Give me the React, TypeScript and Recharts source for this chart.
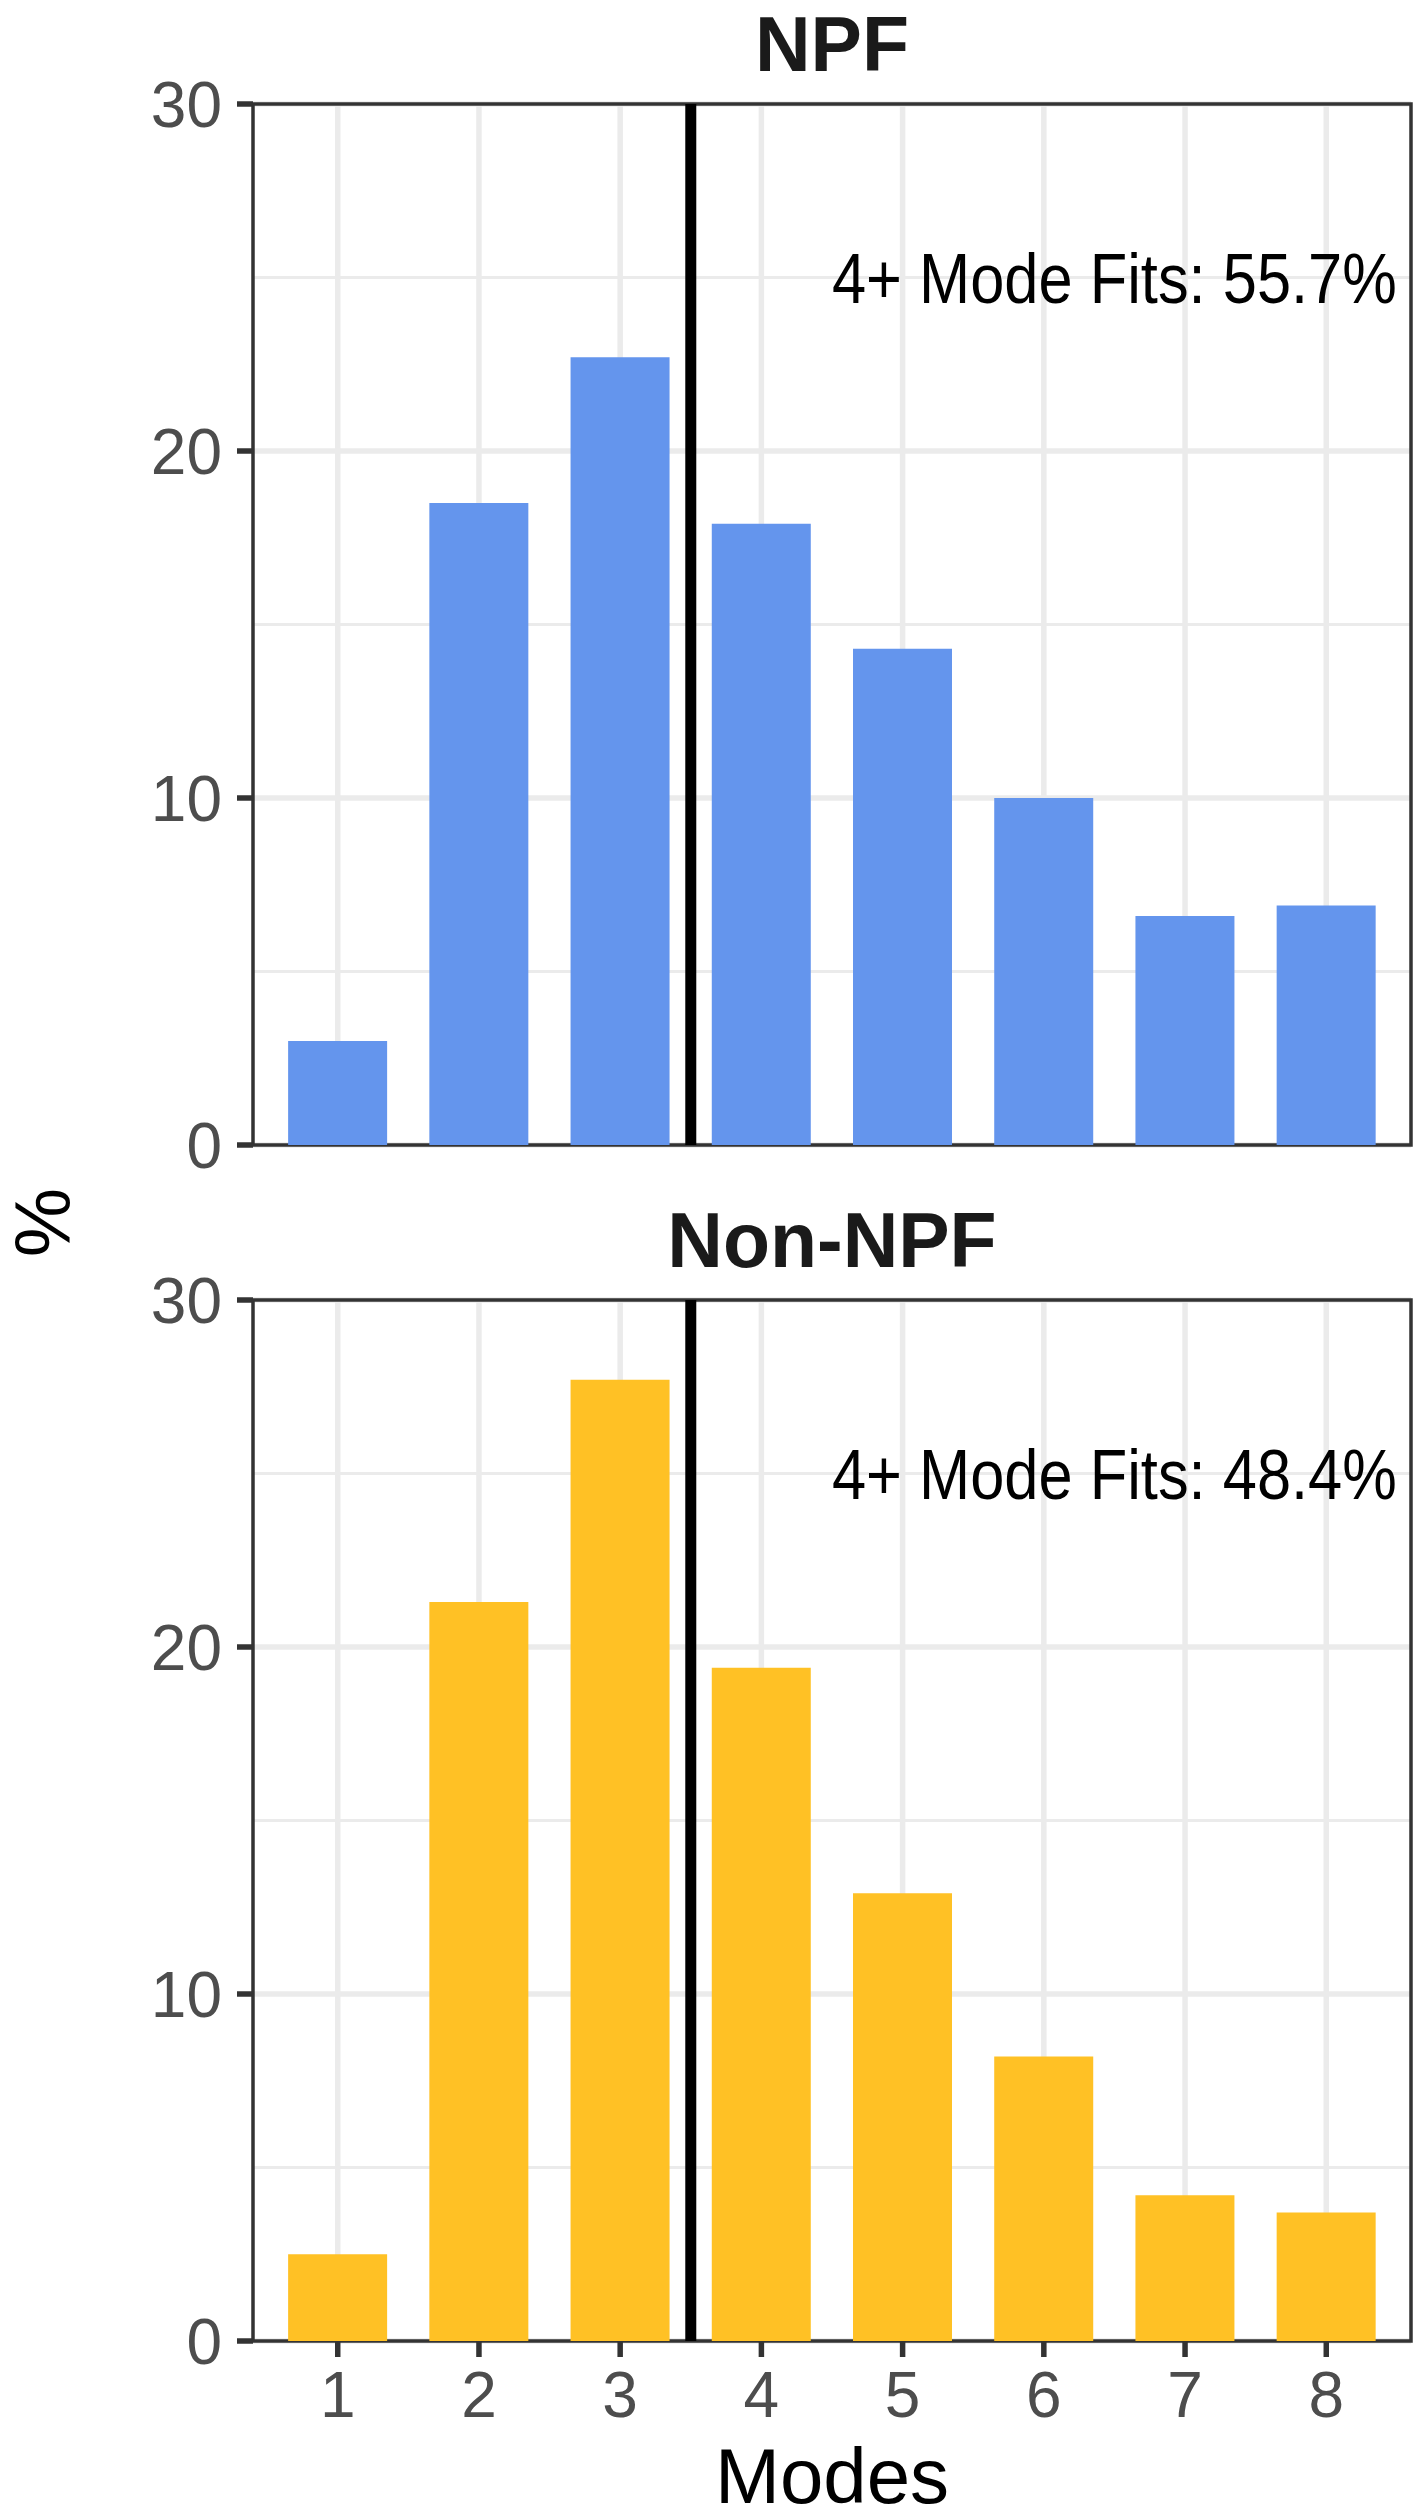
import React from "react";
import {
  BarChart,
  Bar,
  XAxis,
  YAxis,
  CartesianGrid,
  ReferenceLine,
  ReferenceArea,
  ReferenceDot,
} from "recharts";

// ---------- data ----------
const modes = [1, 2, 3, 4, 5, 6, 7, 8];
const npfPct = [3.0, 18.5, 22.7, 17.9, 14.3, 10.0, 6.6, 6.9];
const nonNpfPct = [2.5, 21.3, 27.7, 19.4, 12.9, 8.2, 4.2, 3.7];
const yTicks = [0, 10, 20, 30];
const yMinor = [5, 15, 25];
const xTicks = [1, 2, 3, 4, 5, 6, 7, 8];
const panelTitles = ["NPF", "Non-NPF"];
const fitLabels = ["4+ Mode Fits: 55.7%", "4+ Mode Fits: 48.4%"];
const cutoff = 3.5;
const labelAt = { x: 8.5, y: 25 };
const xDomain: [number, number] = [0.4, 8.6];
const yDomain: [number, number] = [0, 30];

// ---------- layout ----------
const W = 1427;
const H = 2519;
const PLOT_LEFT = 253;
const PLOT_RIGHT_MARGIN = 16;
const TOP_H = 1230;
const BOTTOM_H = H - TOP_H;
const FONT = "'Liberation Sans', Arial, Helvetica, sans-serif";
const GRID = "#EBEBEB";
const DARK = "#333333";
const TICK_TXT = "#4D4D4D";

const makeRows = (vals: number[]) =>
  modes.map((m, i) => ({ mode: m, pct: vals[i] }));

const yCoords = (vals: number[]) => (args: any) =>
  vals.map((v) =>
    args && args.yAxis && typeof args.yAxis.scale === "function"
      ? args.yAxis.scale(v)
      : args.offset.top +
        args.offset.height * (1 - (v - yDomain[0]) / (yDomain[1] - yDomain[0]))
  );

const xCoords = (vals: number[]) => (args: any) =>
  vals.map((v) =>
    args && args.xAxis && typeof args.xAxis.scale === "function"
      ? args.xAxis.scale(v)
      : args.offset.left +
        (args.offset.width * (v - xDomain[0])) / (xDomain[1] - xDomain[0])
  );

type PanelProps = {
  values: number[];
  color: string;
  fit: string;
  height: number;
  marginTop: number;
  marginBottom: number;
  showX: boolean;
  xAxisHeight: number;
};

const Panel = ({
  values,
  color,
  fit,
  height,
  marginTop,
  marginBottom,
  showX,
  xAxisHeight,
}: PanelProps) => {
  const data = makeRows(values);
  const Annotation = (p: any) => (
    <g transform={`translate(${p.cx}, ${p.cy}) scale(0.865, 1)`}>
      <text
        x={0}
        y={0}
        dy={25}
        textAnchor="end"
        fontFamily={FONT}
        fontSize={71}
        fill="#000000"
      >
        {fit}
      </text>
    </g>
  );
  return (
    <BarChart
      width={W}
      height={height}
      data={data}
      margin={{ top: marginTop, right: PLOT_RIGHT_MARGIN, bottom: marginBottom, left: 0 }}
    >
      <CartesianGrid
        vertical={false}
        stroke={GRID}
        strokeWidth={2.8}
        horizontalCoordinatesGenerator={yCoords(yMinor)}
      />
      <CartesianGrid
        stroke={GRID}
        strokeWidth={5.5}
        horizontalCoordinatesGenerator={yCoords(yTicks)}
        verticalCoordinatesGenerator={xCoords(xTicks)}
      />
      <XAxis
        dataKey="mode"
        type="number"
        domain={xDomain}
        allowDataOverflow
        ticks={xTicks}
        interval={0}
        height={xAxisHeight}
        axisLine={false}
        tickLine={showX ? { stroke: DARK, strokeWidth: 5.5 } : false}
        tickSize={showX ? 16 : 0}
        tickMargin={15}
        tick={
          showX
            ? { fill: TICK_TXT, fontSize: 64, fontFamily: FONT }
            : false
        }
      />
      <YAxis
        type="number"
        domain={yDomain}
        allowDataOverflow
        ticks={yTicks}
        interval={0}
        width={PLOT_LEFT}
        axisLine={false}
        tickLine={{ stroke: DARK, strokeWidth: 5.5 }}
        tickSize={16}
        tickMargin={15}
        tick={{ fill: TICK_TXT, fontSize: 64, fontFamily: FONT }}
      />
      <Bar dataKey="pct" fill={color} barSize={99} isAnimationActive={false} />
      <ReferenceLine
        x={cutoff}
        stroke="#000000"
        strokeWidth={11}
        ifOverflow="visible"
      />
      <ReferenceArea
        x1={xDomain[0]}
        x2={xDomain[1]}
        y1={yDomain[0]}
        y2={yDomain[1]}
        fill="none"
        fillOpacity={0}
        stroke={DARK}
        strokeWidth={3.5}
        ifOverflow="visible"
      />
      <ReferenceDot
        x={labelAt.x}
        y={labelAt.y}
        r={1}
        ifOverflow="visible"
        shape={Annotation}
      />
    </BarChart>
  );
};

export default function App() {
  const plotCenterX = (PLOT_LEFT + (W - PLOT_RIGHT_MARGIN)) / 2;
  const topPlotTop = 104;
  const bottomPlotTop = TOP_H + 70;
  const bottomPlotBottom = H - 178;
  const midY = (topPlotTop + bottomPlotBottom) / 2;
  return (
    <div
      style={{
        position: "absolute",
        left: 0,
        top: 0,
        width: W,
        height: H,
        background: "#ffffff",
        overflow: "hidden",
      }}
    >
      <div style={{ position: "absolute", left: 0, top: 0 }}>
        <Panel
          values={npfPct}
          color="#6495ED"
          fit={fitLabels[0]}
          height={TOP_H}
          marginTop={topPlotTop}
          marginBottom={TOP_H - 1145}
          showX={false}
          xAxisHeight={0}
        />
      </div>
      <div style={{ position: "absolute", left: 0, top: TOP_H }}>
        <Panel
          values={nonNpfPct}
          color="#FFC125"
          fit={fitLabels[1]}
          height={BOTTOM_H}
          marginTop={70}
          marginBottom={0}
          showX={true}
          xAxisHeight={178}
        />
      </div>
      <svg
        width={W}
        height={H}
        style={{ position: "absolute", left: 0, top: 0, pointerEvents: "none" }}
      >
        <text
          x={plotCenterX}
          y={topPlotTop - 33}
          textAnchor="middle"
          fontFamily={FONT}
          fontWeight="bold"
          fontSize={77}
          fill="#1A1A1A"
        >
          {panelTitles[0]}
        </text>
        <text
          x={plotCenterX}
          y={bottomPlotTop - 33}
          textAnchor="middle"
          fontFamily={FONT}
          fontWeight="bold"
          fontSize={77}
          fill="#1A1A1A"
        >
          {panelTitles[1]}
        </text>
        <text
          x={plotCenterX}
          y={H - 16}
          textAnchor="middle"
          fontFamily={FONT}
          fontSize={78}
          fill="#000000"
        >
          Modes
        </text>
        <text
          x={70}
          y={midY}
          transform={`rotate(-90, 70, ${midY})`}
          textAnchor="middle"
          fontFamily={FONT}
          fontSize={78}
          fill="#000000"
        >
          %
        </text>
      </svg>
    </div>
  );
}
